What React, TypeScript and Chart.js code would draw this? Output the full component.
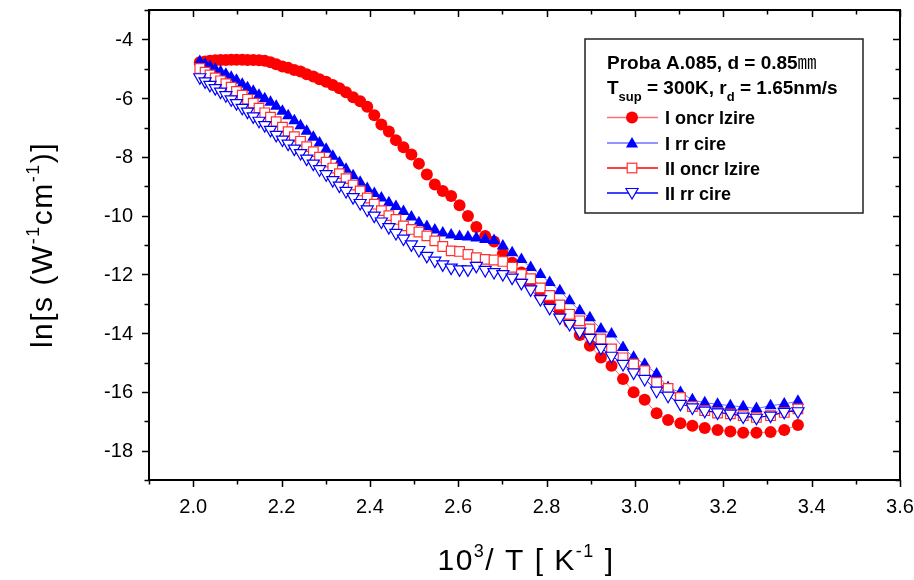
import React, { useEffect, useRef } from "react";
import { Chart, registerables } from "chart.js";

Chart.register(...registerables);

// ---------- data ----------
const xValues = [
  2.015, 2.027, 2.038, 2.05, 2.062, 2.074, 2.086, 2.098, 2.111, 2.123,
  2.136, 2.149, 2.162, 2.175, 2.188, 2.202, 2.215, 2.229, 2.243, 2.257,
  2.272, 2.286, 2.301, 2.316, 2.331, 2.346, 2.362, 2.378, 2.394, 2.41,
  2.426, 2.443, 2.459, 2.476, 2.494, 2.511, 2.529, 2.547, 2.565, 2.584,
  2.603, 2.622, 2.641, 2.661, 2.681, 2.701, 2.722, 2.743, 2.764, 2.786,
  2.807, 2.83, 2.852, 2.875, 2.898, 2.923, 2.947, 2.973, 2.997, 3.022,
  3.049, 3.075, 3.103, 3.13, 3.158, 3.187, 3.216, 3.245, 3.275, 3.307,
  3.338, 3.369,
];

const heatingI = [
  -4.78, -4.75, -4.73, -4.71, -4.7, -4.7, -4.69, -4.69, -4.69, -4.7,
  -4.7, -4.71, -4.73, -4.78, -4.85, -4.92, -4.97, -5.04, -5.09, -5.19,
  -5.26, -5.36, -5.44, -5.55, -5.66, -5.8, -5.97, -6.11, -6.29, -6.58,
  -6.9, -7.14, -7.43, -7.67, -7.92, -8.23, -8.6, -8.94, -9.16, -9.33,
  -9.65, -10.01, -10.39, -10.69, -10.88, -11.3, -11.6, -11.94, -12.32, -12.73,
  -12.97, -13.24, -13.64, -14.06, -14.43, -14.83, -15.11, -15.56, -16.01, -16.27,
  -16.73, -16.96, -17.07, -17.15, -17.23, -17.3, -17.35, -17.39, -17.39, -17.37,
  -17.3, -17.13,
];

const coolingI = [
  -4.75, -4.85, -4.93, -5.02, -5.1, -5.19, -5.29, -5.39, -5.53, -5.65,
  -5.77, -5.9, -6.02, -6.14, -6.28, -6.45, -6.6, -6.77, -6.94, -7.13,
  -7.33, -7.53, -7.74, -7.98, -8.2, -8.42, -8.64, -8.86, -9.08, -9.25,
  -9.4, -9.56, -9.69, -9.86, -10.05, -10.24, -10.37, -10.49, -10.59, -10.66,
  -10.71, -10.73, -10.76, -10.81, -10.85, -11.03, -11.26, -11.49, -11.77, -12.0,
  -12.28, -12.56, -12.9, -13.24, -13.48, -13.86, -14.03, -14.49, -14.82, -15.06,
  -15.39, -15.85, -16.02, -16.27, -16.37, -16.42, -16.47, -16.51, -16.57, -16.47,
  -16.41, -16.32,
];

const heatingII = [
  -4.99, -5.12, -5.21, -5.31, -5.41, -5.51, -5.63, -5.77, -5.9, -6.04,
  -6.17, -6.34, -6.5, -6.65, -6.8, -6.99, -7.14, -7.31, -7.47, -7.65,
  -7.82, -8.01, -8.18, -8.38, -8.57, -8.74, -8.96, -9.16, -9.4, -9.61,
  -9.83, -10.0, -10.13, -10.35, -10.47, -10.56, -10.69, -10.86, -11.05, -11.2,
  -11.22, -11.32, -11.43, -11.49, -11.51, -11.56, -11.76, -12.0, -12.15, -12.46,
  -12.72, -13.04, -13.36, -13.58, -13.86, -14.2, -14.54, -14.84, -15.05, -15.28,
  -15.68, -15.88, -16.19, -16.5, -16.64, -16.72, -16.75, -16.81, -16.87, -16.81,
  -16.7, -16.58,
];

const coolingII = [
  -5.29, -5.43, -5.55, -5.66, -5.78, -5.9, -6.04, -6.17, -6.33, -6.46,
  -6.62, -6.77, -6.92, -7.08, -7.25, -7.41, -7.55, -7.72, -7.87, -8.06,
  -8.23, -8.42, -8.59, -8.79, -8.98, -9.16, -9.37, -9.57, -9.79, -10.0,
  -10.2, -10.39, -10.59, -10.78, -10.98, -11.17, -11.37, -11.53, -11.66, -11.77,
  -11.83, -11.83, -11.71, -11.85, -11.92, -11.99, -12.11, -12.29, -12.51, -12.84,
  -13.14, -13.47, -13.69, -13.95, -14.16, -14.5, -14.77, -15.05, -15.34, -15.56,
  -15.96, -16.13, -16.41, -16.53, -16.64, -16.7, -16.74, -16.84, -16.88, -16.81,
  -16.68, -16.66,
];

const seriesLabels = ["I oncr lzire", "I rr cire", "II oncr lzire", "II rr cire"];
const legendLine1 = "Proba A.085, d = 0.85";
const legendUnit = "\u339C";
const xTickValues = [2.0, 2.2, 2.4, 2.6, 2.8, 3.0, 3.2, 3.4, 3.6];
const xMinorTickValues = [1.9, 2.1, 2.3, 2.5, 2.7, 2.9, 3.1, 3.3, 3.5];
const yTickValues = [-18, -16, -14, -12, -10, -8, -6, -4];
const yMinorTickValues = [-19, -17, -15, -13, -11, -9, -7, -5, -3];
const xMin = 1.9;
const xMax = 3.6;
const yMin = -19;
const yMax = -3;

// ---------- styling ----------
const FONT = "'Liberation Sans', Arial, Helvetica, sans-serif";
const CJK = "'Noto Sans CJK JP', 'Noto Sans CJK SC', sans-serif";
const RED = "#ff0000";
const BLUE = "#0000ff";
const LIGHT_RED = "#ff7070";
const LIGHT_BLUE = "#7070ff";

type Seg = { t: string; size: number; bold?: boolean; dy?: number; family?: string };

function fontOf(s: Seg) {
  return `${s.bold ? "bold " : ""}${s.size}px ${s.family || FONT}`;
}

function segWidth(ctx: CanvasRenderingContext2D, segs: Seg[]) {
  let w = 0;
  for (const s of segs) {
    ctx.font = fontOf(s);
    w += ctx.measureText(s.t).width;
  }
  return w;
}

function drawSegs(ctx: CanvasRenderingContext2D, segs: Seg[], x: number, y: number) {
  let cx = x;
  ctx.textAlign = "left";
  ctx.textBaseline = "alphabetic";
  for (const s of segs) {
    ctx.font = fontOf(s);
    ctx.fillText(s.t, cx, y + (s.dy || 0));
    cx += ctx.measureText(s.t).width;
  }
}

function drawMarker(ctx: CanvasRenderingContext2D, kind: number, x: number, y: number) {
  ctx.save();
  ctx.lineWidth = 1.2;
  if (kind === 0) {
    ctx.fillStyle = RED;
    ctx.beginPath();
    ctx.arc(x, y, 6, 0, Math.PI * 2);
    ctx.fill();
  } else if (kind === 1) {
    const r = 7;
    ctx.fillStyle = BLUE;
    ctx.beginPath();
    for (let i = 0; i < 3; i++) {
      const a = (i * 2 * Math.PI) / 3;
      const px = x + Math.sin(a) * r;
      const py = y - Math.cos(a) * r + 1;
      if (i === 0) ctx.moveTo(px, py);
      else ctx.lineTo(px, py);
    }
    ctx.closePath();
    ctx.fill();
  } else if (kind === 2) {
    const s = 4.8;
    ctx.fillStyle = "#fff";
    ctx.strokeStyle = "#ff3030";
    ctx.fillRect(x - s, y - s, 2 * s, 2 * s);
    ctx.strokeRect(x - s, y - s, 2 * s, 2 * s);
  } else {
    const r = 7;
    ctx.fillStyle = "#fff";
    ctx.strokeStyle = BLUE;
    ctx.beginPath();
    for (let i = 0; i < 3; i++) {
      const a = (i * 2 * Math.PI) / 3 + Math.PI;
      const px = x + Math.sin(a) * r;
      const py = y - Math.cos(a) * r - 1;
      if (i === 0) ctx.moveTo(px, py);
      else ctx.lineTo(px, py);
    }
    ctx.closePath();
    ctx.fill();
    ctx.stroke();
  }
  ctx.restore();
}

const decorPlugin = {
  id: "decor",
  afterDatasetsDraw(chart: any) {
    const ctx: CanvasRenderingContext2D = chart.ctx;
    const { left, right, top, bottom } = chart.chartArea;
    const xs = chart.scales.x;
    const ys = chart.scales.y;
    ctx.save();
    ctx.strokeStyle = "#000";
    // frame
    ctx.lineWidth = 2;
    ctx.strokeRect(left, top, right - left, bottom - top);
    // ticks
    ctx.lineWidth = 1.5;
    const MAJ = 7;
    const MIN = 4.5;
    ctx.beginPath();
    const xt = (v: number, len: number) => {
      const p = Math.round(xs.getPixelForValue(v)) + 0.5;
      ctx.moveTo(p, bottom);
      ctx.lineTo(p, bottom + len);
      ctx.moveTo(p, top);
      ctx.lineTo(p, top + len);
    };
    const yt = (v: number, len: number) => {
      const p = Math.round(ys.getPixelForValue(v)) + 0.5;
      ctx.moveTo(left, p);
      ctx.lineTo(left - len, p);
      ctx.moveTo(right, p);
      ctx.lineTo(right - len, p);
    };
    xTickValues.forEach((v) => xt(v, MAJ));
    xMinorTickValues.forEach((v) => xt(v, MIN));
    yTickValues.forEach((v) => yt(v, MAJ));
    yMinorTickValues.forEach((v) => yt(v, MIN));
    ctx.stroke();

    // tick labels
    ctx.fillStyle = "#000";
    ctx.font = `20px ${FONT}`;
    ctx.textBaseline = "middle";
    ctx.textAlign = "center";
    xTickValues.forEach((v) => {
      ctx.fillText(v.toFixed(1), xs.getPixelForValue(v), bottom + 27);
    });
    ctx.textAlign = "right";
    yTickValues.forEach((v) => {
      ctx.fillText(String(v), left - 16, ys.getPixelForValue(v) + 1);
    });

    // legend box
    const bx = 585, by = 39, bw = 278, bh = 174;
    ctx.fillStyle = "#fff";
    ctx.fillRect(bx, by, bw, bh);
    ctx.strokeStyle = "#222";
    ctx.lineWidth = 1.5;
    ctx.strokeRect(bx, by, bw, bh);
    ctx.fillStyle = "#000";
    drawSegs(
      ctx,
      [
        { t: legendLine1, size: 19, bold: true },
        { t: legendUnit, size: 19, family: CJK },
      ],
      607,
      69
    );
    drawSegs(
      ctx,
      [
        { t: "T", size: 19, bold: true },
        { t: "sup", size: 13, bold: true, dy: 7 },
        { t: " = 300K, r", size: 19, bold: true },
        { t: "d", size: 13, bold: true, dy: 7 },
        { t: " = 1.65nm/s", size: 19, bold: true },
      ],
      607,
      94
    );
    const lineColors = [LIGHT_RED, LIGHT_BLUE, RED, BLUE];
    const rows = [117.5, 143, 168, 193];
    rows.forEach((cy, i) => {
      ctx.strokeStyle = lineColors[i];
      ctx.lineWidth = 1.3;
      ctx.beginPath();
      ctx.moveTo(607, cy);
      ctx.lineTo(658, cy);
      ctx.stroke();
      drawMarker(ctx, i, 632, cy);
      ctx.fillStyle = "#000";
      drawSegs(ctx, [{ t: seriesLabels[i], size: 18, bold: true }], 665, cy + 6.5);
    });

    // axis titles
    const anyCtx = ctx as any;
    anyCtx.letterSpacing = "1.5px";
    const xt2: Seg[] = [
      { t: "10", size: 30 },
      { t: "3", size: 18, dy: -13 },
      { t: "/ T [ K", size: 30 },
      { t: "-1", size: 18, dy: -13 },
      { t: " ]", size: 30 },
    ];
    const wX = segWidth(ctx, xt2);
    ctx.fillStyle = "#000";
    drawSegs(ctx, xt2, 526 - wX / 2, 570);

    const yt2: Seg[] = [
      { t: "ln[s (W", size: 30 },
      { t: "-1", size: 18, dy: -13 },
      { t: "cm", size: 30 },
      { t: "-1", size: 18, dy: -13 },
      { t: ")]", size: 30 },
    ];
    const wY = segWidth(ctx, yt2);
    ctx.save();
    ctx.translate(52, 245);
    ctx.rotate(-Math.PI / 2);
    drawSegs(ctx, yt2, -wY / 2, 0);
    ctx.restore();
    anyCtx.letterSpacing = "0px";

    ctx.restore();
  },
};

function toPts(ys: number[]) {
  return xValues.map((x, i) => ({ x, y: ys[i] }));
}

export default function App() {
  const ref = useRef<HTMLCanvasElement | null>(null);
  useEffect(() => {
    if (!ref.current) return;
    const chart = new Chart(ref.current, {
      type: "line",
      data: {
        datasets: [
          {
            label: seriesLabels[0],
            data: toPts(heatingI),
            borderColor: LIGHT_RED,
            borderWidth: 1,
            pointStyle: "circle",
            pointRadius: 6,
            pointBackgroundColor: RED,
            pointBorderColor: RED,
            pointBorderWidth: 0,
            order: 4,
          },
          {
            label: seriesLabels[1],
            data: toPts(coolingI),
            borderColor: LIGHT_BLUE,
            borderWidth: 1,
            pointStyle: "triangle",
            pointRadius: 7,
            pointBackgroundColor: BLUE,
            pointBorderColor: BLUE,
            pointBorderWidth: 0,
            order: 3,
          },
          {
            label: seriesLabels[2],
            data: toPts(heatingII),
            borderColor: RED,
            borderWidth: 1,
            pointStyle: "rect",
            pointRadius: 6.8,
            pointBackgroundColor: "#fff",
            pointBorderColor: "#ff3030",
            pointBorderWidth: 1.2,
            order: 2,
          },
          {
            label: seriesLabels[3],
            data: toPts(coolingII),
            borderColor: BLUE,
            borderWidth: 1,
            pointStyle: "triangle",
            pointRotation: 180,
            pointRadius: 7,
            pointBackgroundColor: "#fff",
            pointBorderColor: BLUE,
            pointBorderWidth: 1.2,
            order: 1,
          },
        ],
      },
      options: {
        animation: false,
        responsive: false,
        maintainAspectRatio: false,
        layout: { padding: { top: 10, right: 14, left: 0, bottom: 0 } },
        plugins: { legend: { display: false }, tooltip: { enabled: false } },
        scales: {
          x: {
            type: "linear",
            min: xMin,
            max: xMax,
            grid: { display: false, drawTicks: false },
            border: { display: false },
            ticks: { display: false },
            afterFit: (s: any) => {
              s.height = 100;
            },
          },
          y: {
            type: "linear",
            min: yMin,
            max: yMax,
            grid: { display: false, drawTicks: false },
            border: { display: false },
            ticks: { display: false },
            afterFit: (s: any) => {
              s.width = 149;
            },
          },
        },
      },
      plugins: [decorPlugin],
    });
    return () => chart.destroy();
  }, []);
  return (
    <div style={{ position: "fixed", left: 0, top: 0, width: 914, height: 580, background: "#fff" }}>
      <canvas ref={ref} width={914} height={580} />
    </div>
  );
}
